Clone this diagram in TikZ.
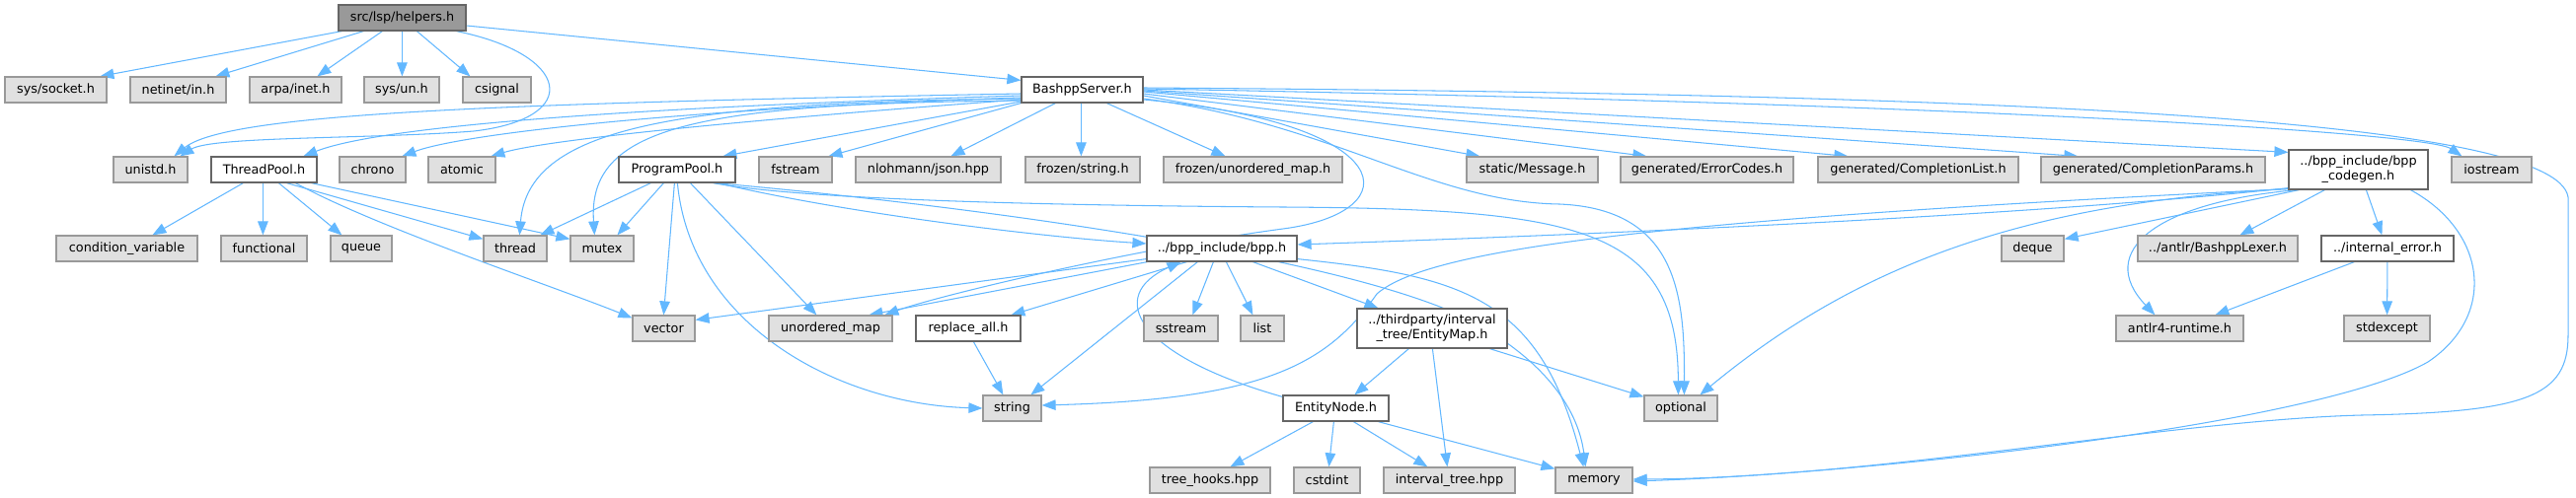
\documentclass[tikz,border=0pt]{standalone}
\usepackage{fontspec}
\newfontfamily\dvs{DejaVu Sans}
\usetikzlibrary{arrows.meta,backgrounds}
\definecolor{extfill}{HTML}{E0E0E0}
\definecolor{extborder}{HTML}{999999}
\definecolor{intborder}{HTML}{666666}
\definecolor{rootfill}{HTML}{999999}
\definecolor{edgec}{HTML}{63B8FF}
\tikzset{
  box/.style={rectangle, minimum height=26pt, inner sep=0pt, line width=1.2pt,
    font=\dvs\fontsize{12.8pt}{15pt}\selectfont, align=center, text=black},
  ext/.style={box, fill=extfill, draw=extborder},
  int/.style={box, fill=white, draw=intborder},
  root/.style={box, fill=rootfill, draw=intborder},
  edge/.style={draw=edgec, line width=1.05pt, -{Triangle[length=14pt,width=10.5pt]}},
}
\newcommand\dedge[4]{\draw[edge] ([xshift=#2pt]#1.south west) -- ([xshift=#4pt]#3.north west);}
\begin{document}
\begin{tikzpicture}[x=1pt,y=-1pt]
\useasboundingbox (0,0) rectangle (2610,505);
% row 0
\node[root, minimum width=129pt] (helpers) at (407.5,18) {src/lsp/helpers.h};
% row 1
\node[ext, minimum width=103pt] (socket) at (56.5,91) {sys/socket.h};
\node[ext, minimum width=97pt] (netinet) at (180.5,91) {netinet/in.h};
\node[ext, minimum width=93pt] (arpa) at (299.5,91) {arpa/inet.h};
\node[ext, minimum width=76pt] (sysun) at (407,91) {sys/un.h};
\node[ext, minimum width=69pt] (csignal) at (503.5,91) {csignal};
\node[int, minimum width=123pt] (server) at (1096.5,91) {BashppServer.h};
% row 2
\node[ext, minimum width=75pt] (unistd) at (152.5,172) {unistd.h};
\node[int, minimum width=107pt] (tpool) at (267.5,172) {ThreadPool.h};
\node[ext, minimum width=67pt] (chrono) at (377.5,172) {chrono};
\node[ext, minimum width=68pt] (atomic) at (468,172) {atomic};
\node[int, minimum width=118pt] (ppool) at (686,172) {ProgramPool.h};
\node[ext, minimum width=74pt] (fstream) at (806,172) {fstream};
\node[ext, minimum width=147pt] (json) at (940.5,172) {nlohmann/json.hpp};
\node[ext, minimum width=116pt] (fstring) at (1097,172) {frozen/string.h};
\node[ext, minimum width=181pt] (fumap) at (1269.5,172) {frozen/unordered\_map.h};
\node[ext, minimum width=133pt] (message) at (1552.5,172) {static/Message.h};
\node[ext, minimum width=175pt] (errcodes) at (1729.5,172) {generated/ErrorCodes.h};
\node[ext, minimum width=203pt] (complist) at (1943.5,172) {generated/CompletionList.h};
\node[ext, minimum width=227pt] (compparams) at (2181.5,172) {generated/CompletionParams.h};
\node[int, minimum width=141pt, minimum height=40pt] (codegen) at (2389.5,172) {../bpp\_include/bpp\\\_codegen.h};
\node[ext, minimum width=81pt] (iostream) at (2524.5,172) {iostream};
% row 3
\node[ext, minimum width=143pt] (condvar) at (128.5,252) {condition\_variable};
\node[ext, minimum width=87pt] (functional) at (267.5,252) {functional};
\node[ext, minimum width=62pt] (queue) at (366,252) {queue};
\node[ext, minimum width=64pt] (thread) at (522,252) {thread};
\node[ext, minimum width=64pt] (mutex) at (610,252) {mutex};
\node[int, minimum width=152pt] (bpp) at (1238,252) {../bpp\_include/bpp.h};
\node[ext, minimum width=63pt] (deque) at (2059.5,252) {deque};
\node[ext, minimum width=162pt] (lexer) at (2247,252) {../antlr/BashppLexer.h};
\node[int, minimum width=134pt] (interr) at (2419,252) {../internal\_error.h};
% row 4
\node[ext, minimum width=63pt] (vector) at (672.5,333) {vector};
\node[ext, minimum width=125pt] (umap) at (841.5,333) {unordered\_map};
\node[int, minimum width=106pt] (replaceall) at (981,333) {replace\_all.h};
\node[ext, minimum width=75pt] (sstream) at (1196.5,333) {sstream};
\node[ext, minimum width=44pt] (list) at (1279,333) {list};
\node[int, minimum width=152pt, minimum height=40pt] (entitymap) at (1451,333) {../thirdparty/interval\\\_tree/EntityMap.h};
\node[ext, minimum width=129pt] (antlr) at (2208.5,333) {antlr4-runtime.h};
\node[ext, minimum width=87pt] (stdexcept) at (2418.5,333) {stdexcept};
% row 5
\node[ext, minimum width=59pt] (string) at (1025.5,414) {string};
\node[int, minimum width=107pt] (entitynode) at (1353.5,414) {EntityNode.h};
\node[ext, minimum width=74pt] (optional) at (1703,414) {optional};
% row 6
\node[ext, minimum width=122pt] (treehooks) at (1226,487) {tree\_hooks.hpp};
\node[ext, minimum width=67pt] (cstdint) at (1344.5,487) {cstdint};
\node[ext, minimum width=133pt] (itree) at (1468.5,487) {interval\_tree.hpp};
\node[ext, minimum width=78pt] (memory) at (1615,487) {memory};

\begin{scope}[on background layer]
\fill[white] (0,0) rectangle (2610,505);
% helpers.h
\dedge{helpers}{4}{socket}{97}
\dedge{helpers}{26}{netinet}{87}
\dedge{helpers}{45}{arpa}{69}
\dedge{helpers}{65}{sysun}{39}
\dedge{helpers}{80}{csignal}{8}
\draw[edge] ([yshift=-8pt]helpers.east) -- ([yshift=-4pt]server.north west);
\draw[edge] ([xshift=120pt]helpers.south west) .. controls (578,55) and (592,120) .. (480,133) .. controls (380,141) and (215,138) .. ([xshift=68pt]unistd.north west);
% BashppServer.h
\draw[edge] ([yshift=-4pt]server.west) .. controls (500,105) and (230,115) .. ([xshift=62pt]unistd.north west);
\draw[edge] ([yshift=-6pt]server.west) .. controls (600,110) and (380,130) .. ([xshift=94pt]tpool.north west);
\draw[edge] ([yshift=-8pt]server.west) .. controls (700,110) and (470,135) .. ([xshift=64pt]chrono.north west);
\draw[edge] ([yshift=-10pt]server.west) .. controls (800,118) and (560,140) .. ([xshift=64pt]atomic.north west);
\draw[edge] ([yshift=-9pt]server.west) .. controls (680,104) and (535,130) .. ([xshift=37pt]thread.north west);
\draw[edge] ([yshift=-11pt]server.west) .. controls (700,105) and (595,130) .. ([xshift=25pt]mutex.north west);
\draw[edge] ([yshift=-12pt]server.west) -- ([xshift=106pt]ppool.north west);
\draw[edge] (server.south west) -- ([xshift=71pt]fstream.north west);
\dedge{server}{35}{json}{97}
\dedge{server}{61}{fstring}{57}
\dedge{server}{87}{fumap}{63}
\draw[edge] ([yshift=-6pt]server.east) -- ([xshift=14pt]message.north west);
\draw[edge] ([yshift=-4pt]server.east) -- ([xshift=27pt]errcodes.north west);
\draw[edge] ([yshift=-2pt]server.east) -- ([xshift=31pt]complist.north west);
\draw[edge] ([yshift=-1pt]server.east) -- ([xshift=38pt]compparams.north west);
\draw[edge] (server.east) -- ([yshift=-3pt]codegen.north west);
\draw[edge] ([yshift=1pt]server.east) .. controls (2000,105) and (2460,135) .. ([xshift=11pt]iostream.north west);
\draw[edge] ([yshift=2pt]server.east) .. controls (2000,95) and (2590,118) .. (2602,200) -- (2602,340) .. controls (2602,402) and (2560,418) .. (2393,421) .. controls (2200,426) and (1900,485) .. ([yshift=1pt]memory.east);
\draw[edge] ([yshift=-9pt]server.east) .. controls (1350,125) and (1450,205) .. (1580,207) .. controls (1700,212) and (1707,300) .. ([xshift=41pt]optional.north west);
\draw[edge] ([yshift=-10pt]server.east) .. controls (1420,125) and (1430,215) .. (1300,232) .. controls (1150,252) and (950,300) .. ([xshift=118pt]umap.north west);
% ProgramPool.h
\dedge{ppool}{33}{thread}{58}
\dedge{ppool}{46}{mutex}{48}
\dedge{ppool}{57}{vector}{32}
\dedge{ppool}{73}{umap}{49}
\draw[edge] ([xshift=60pt]ppool.south west) .. controls (700,330) and (850,410) .. (string.west);
\draw[edge] ([xshift=101pt]ppool.south west) .. controls (850,215) and (1050,240) .. ([yshift=5pt]bpp.west);
\draw[edge] ([xshift=96pt]ppool.south west) .. controls (800,200) and (1000,208) .. (1300,210) .. controls (1600,212) and (1700,230) .. ([xshift=35pt]optional.north west);
\draw[edge] ([xshift=98pt]ppool.south west) .. controls (1000,210) and (1350,260) .. (1480,320) .. controls (1570,365) and (1600,420) .. ([xshift=31pt]memory.north west);
% ThreadPool.h
\dedge{tpool}{33}{condvar}{98}
\dedge{tpool}{53}{functional}{43}
\dedge{tpool}{69}{queue}{12}
\draw[edge] ([xshift=77pt]tpool.south west) -- ([yshift=-4pt]thread.north west);
\draw[edge] ([xshift=102pt]tpool.south west) -- ([yshift=-4pt]mutex.north west);
\draw[edge] ([xshift=86pt]tpool.south west) .. controls (380,230) and (560,290) .. ([yshift=-3pt]vector.north west);
% bpp.h
\draw[edge] ([yshift=3pt]bpp.south west) -- ([yshift=-5pt]vector.north east);
\dedge{bpp}{1}{umap}{102}
\dedge{bpp}{41}{replaceall}{97}
\dedge{bpp}{52}{string}{49}
\dedge{bpp}{68}{sstream}{50}
\dedge{bpp}{81}{list}{13}
\dedge{bpp}{108}{entitymap}{22}
\draw[edge] ([yshift=3pt]bpp.south east) .. controls (1480,280) and (1560,300) .. ([xshift=29pt]memory.north west);
% replace_all.h
\dedge{replaceall}{59}{string}{21}
% bpp_codegen.h
\draw[edge] ([yshift=2pt]codegen.south west) .. controls (2100,215) and (1700,235) .. ([yshift=4pt]bpp.east);
\draw[edge] ([yshift=1pt]codegen.south west) .. controls (1700,222) and (1450,250) .. (1395,298) .. controls (1345,370) and (1280,405) .. ([yshift=3pt]string.east);
\draw[edge] ([xshift=11pt]codegen.south west) -- ([yshift=-4pt]deque.north east);
\draw[edge] ([xshift=9pt]codegen.south west) .. controls (2185,205) and (2122,255) .. ([xshift=40pt]antlr.north west);
\dedge{codegen}{37}{lexer}{104}
\dedge{codegen}{79}{interr}{62}
\draw[edge] ([yshift=1pt]codegen.south west) .. controls (2050,205) and (1880,270) .. ([xshift=57pt]optional.north west);
\draw[edge] ([xshift=124pt]codegen.south west) .. controls (2520,235) and (2530,320) .. (2460,367) .. controls (2350,430) and (1900,480) .. ([yshift=-1pt]memory.east);
% internal_error.h
\dedge{interr}{34}{antlr}{101}
\draw[edge] (interr) -- (stdexcept);
% EntityMap.h
\dedge{entitymap}{53}{entitynode}{73}
\dedge{entitymap}{77}{itree}{65}
\draw[edge] ([xshift=135pt]entitymap.south west) -- ([yshift=-2pt]optional.north west);
% EntityNode.h
\dedge{entitynode}{31}{treehooks}{82}
\dedge{entitynode}{52}{cstdint}{36}
\dedge{entitynode}{72}{itree}{45}
\draw[edge] ([xshift=97pt]entitynode.south west) -- ([yshift=-2pt]memory.north west);
\draw[edge] ([yshift=-2pt]entitynode.north west) .. controls (1150,360) and (1120,300) .. ([xshift=35pt]bpp.south west);
\end{scope}
\end{tikzpicture}
\end{document}
